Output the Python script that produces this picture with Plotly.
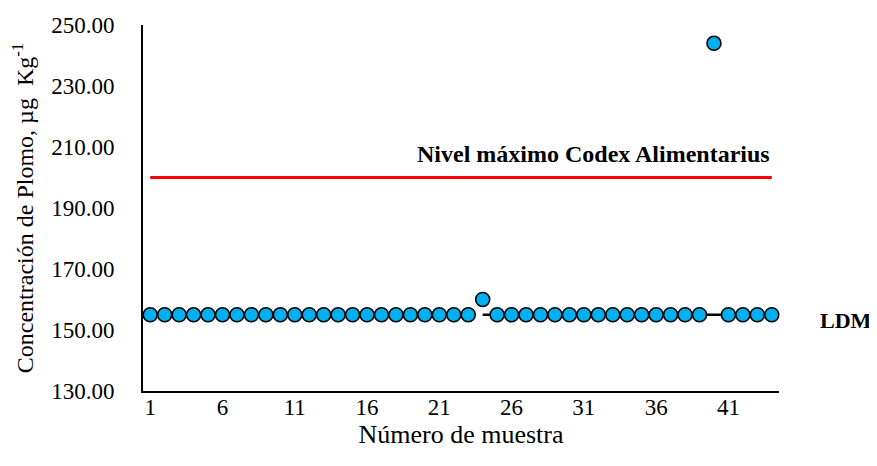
import plotly.graph_objects as go

samples = list(range(1, 45))
lead = [155, 155, 155, 155, 155, 155, 155, 155, 155, 155,
        155, 155, 155, 155, 155, 155, 155, 155, 155, 155,
        155, 155, 155, 160, 155, 155, 155, 155, 155, 155,
        155, 155, 155, 155, 155, 155, 155, 155, 155, 244,
        155, 155, 155, 155]
codex_max = [200] * 44
ldm = [None] * 23 + [155] * 21
xticks = [1, 6, 11, 16, 21, 26, 31, 36, 41]
yticks = [130, 150, 170, 190, 210, 230, 250]

font = "Liberation Serif, Times New Roman, serif"

fig = go.Figure()
fig.add_trace(go.Scatter(x=samples, y=codex_max, mode="lines",
                         line=dict(color="#FF0000", width=3), showlegend=False,
                         hoverinfo="skip"))
fig.add_trace(go.Scatter(x=samples, y=ldm, mode="lines",
                         line=dict(color="#000000", width=2.5), showlegend=False,
                         connectgaps=False))
fig.add_trace(go.Scatter(x=samples, y=lead, mode="markers",
                         marker=dict(size=14, color="#00B0F0",
                                     line=dict(color="#000000", width=1.6)),
                         showlegend=False, cliponaxis=False))

fig.add_annotation(x=44, y=207.8, xref="x", yref="y", text="<b>Nivel máximo Codex Alimentarius</b>",
                   showarrow=False, xanchor="right", yanchor="middle",
                   font=dict(family=font, size=24, color="#000000"))
fig.add_annotation(x=1.150, y=153.0, xref="paper", yref="y", text="<b>LDM</b>",
                   showarrow=False, xanchor="right", yanchor="middle",
                   font=dict(family=font, size=22, color="#000000"))

fig.update_layout(
    width=869, height=458,
    margin=dict(l=135, r=98, t=17, b=75),
    plot_bgcolor="white", paper_bgcolor="white",
    font=dict(family=font, size=23, color="#000000"),
)
fig.update_xaxes(range=[0.5, 44.5], tickvals=xticks, ticktext=[str(v) for v in xticks],
                 showgrid=False, zeroline=False, showline=True, linecolor="#000000",
                 linewidth=2, ticks="", ticklabelstandoff=-6, automargin=False,
                 title=dict(text="Número de muestra", font=dict(size=26), standoff=0))
fig.update_yaxes(range=[130, 250], tickvals=yticks, ticktext=[f"{v:.2f}" for v in yticks],
                 showgrid=False, zeroline=False, showline=True, linecolor="#000000",
                 linewidth=2, ticks="", ticklabelstandoff=22, automargin=False,
                 title=dict(text="Concentración de Plomo, µg  Kg<sup>-1</sup>",
                            font=dict(size=24), standoff=27))

fig.write_html("out.html")
